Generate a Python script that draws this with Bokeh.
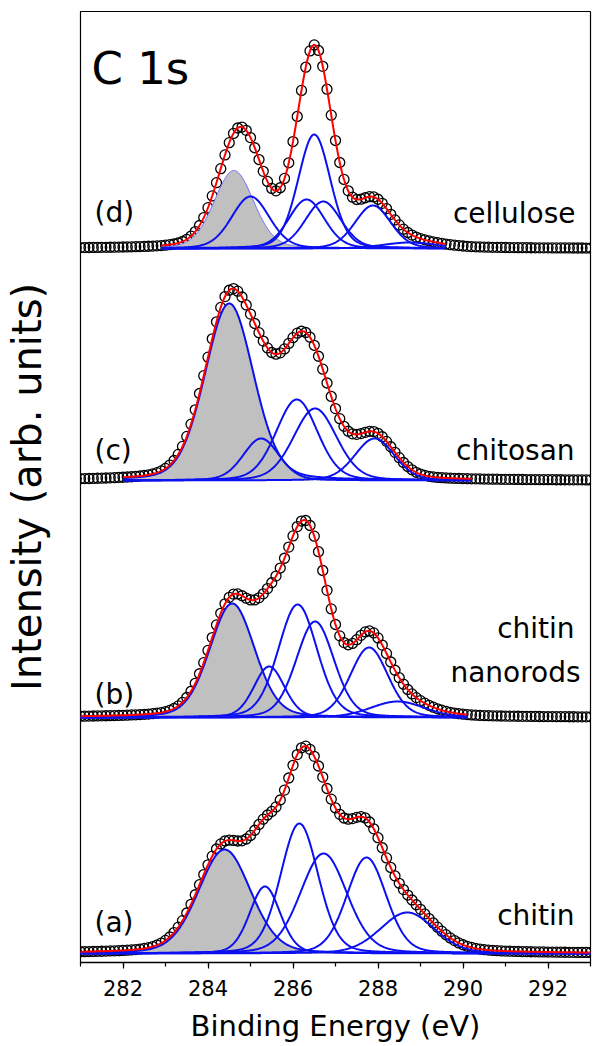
import numpy as np
from bokeh.plotting import figure
from bokeh.models import FixedTicker, Label
from bokeh.embed import file_html
from bokeh.resources import INLINE

FONT = "DejaVu Sans"

# ---- axis ----
x_ticks = [282, 284, 286, 288, 290, 292]
x_minor = list(range(281, 294))
x_label = "Binding Energy (eV)"
y_label = "Intensity (arb. units)"

# ---- panels (bottom to top) ----
panel_tags = ["(a)", "(b)", "(c)", "(d)"]
panel_names = [["chitin"], ["chitin", "nanorods"], ["chitosan"], ["cellulose"]]
panel_offsets = [9, 245, 482, 714]
fit_start = [281.0, 281.0, 282.0, 282.9]
fit_end = [293.0, 290.1, 290.2, 289.6]

# component peaks (first one = shaded C-C/C-H peak)
a_centers = [284.39, 285.34, 286.15, 286.72, 287.73, 288.69]
a_heights = [104, 67, 130, 100, 96, 41]
a_fwhm = [1.45, 0.85, 1.05, 1.30, 1.10, 1.50]

b_centers = [284.57, 285.44, 286.11, 286.52, 287.79, 288.46]
b_heights = [114, 51, 113, 96, 70, 16]
b_fwhm = [1.25, 0.85, 1.08, 1.05, 1.05, 1.50]

c_centers = [284.50, 285.25, 286.09, 286.52, 287.92]
c_heights = [177, 42, 81, 72, 42]
c_fwhm = [1.35, 1.00, 1.15, 1.20, 1.10]

d_centers = [284.61, 285.00, 286.50, 286.32, 286.71, 287.88, 288.75]
d_heights = [78, 52, 114, 49, 47, 43, 6]
d_fwhm = [1.10, 1.05, 0.90, 1.00, 1.00, 1.00, 1.50]

lorentz_fraction = 0.2

centers = [a_centers, b_centers, c_centers, d_centers]
heights = [a_heights, b_heights, c_heights, d_heights]
fwhms = [a_fwhm, b_fwhm, c_fwhm, d_fwhm]


def peak(x, c, h, w, eta=lorentz_fraction):
    g = np.exp(-4 * np.log(2) * (x - c) ** 2 / w ** 2)
    l = 1.0 / (1.0 + 4 * (x - c) ** 2 / w ** 2)
    return h * ((1 - eta) * g + eta * l)


p = figure(width=596, height=1046, x_range=(281, 293), y_range=(0, 951),
           output_backend="svg", toolbar_location=None,
           min_border_left=79, min_border_right=6, min_border_top=11,
           min_border_bottom=84)
p.grid.visible = False
p.outline_line_color = "black"
p.outline_line_width = 1.2
p.background_fill_color = "white"
p.border_fill_color = "white"

# x axis
xa = p.xaxis[0]
xa.ticker = FixedTicker(ticks=x_ticks, minor_ticks=x_minor)
xa.major_tick_out = 6
xa.major_tick_in = 0
xa.minor_tick_out = 4
xa.minor_tick_in = 0
xa.axis_line_width = 1.5
xa.major_tick_line_width = 1.2
xa.minor_tick_line_width = 1.2
xa.major_label_text_font = FONT
xa.major_label_text_font_size = "21px"
xa.major_label_text_color = "black"
xa.major_label_standoff = 11
xa.axis_label = x_label
xa.axis_label_text_font = FONT
xa.axis_label_text_font_size = "29px"
xa.axis_label_text_font_style = "normal"
xa.axis_label_text_color = "black"
xa.axis_label_standoff = 10

# y axis: no ticks, only the title
ya = p.yaxis[0]
ya.ticker = FixedTicker(ticks=[])
ya.axis_line_color = None
ya.major_tick_line_color = None
ya.minor_tick_line_color = None
ya.major_tick_out = 0
ya.major_label_standoff = 0
ya.axis_label = y_label
ya.axis_label_text_font = FONT
ya.axis_label_text_font_size = "40px"
ya.axis_label_text_font_style = "normal"
ya.axis_label_text_color = "black"
ya.axis_label_standoff = 31

energies = np.round(np.arange(280.9, 293.05, 0.1), 2)

for i in range(4):
    off = panel_offsets[i]
    xs = np.linspace(fit_start[i], fit_end[i], 600)
    comps = [peak(xs, c, h, w) for c, h, w in zip(centers[i], heights[i], fwhms[i])]
    env = np.sum(comps, axis=0)
    data = np.sum([peak(energies, c, h, w) for c, h, w in
                   zip(centers[i], heights[i], fwhms[i])], axis=0)

    # measured points
    p.scatter(energies, data + off, marker="circle", size=10, fill_color=None,
              line_color="black", line_width=1.3)
    # shaded first component
    p.varea(x=xs, y1=np.full_like(xs, off), y2=comps[0] + off, fill_color="#c0c0c0")
    for k, comp in enumerate(comps):
        if k == 0 and i == 3:
            p.line(xs, comp + off, line_color="#6a6aff", line_width=1)
        else:
            p.line(xs, comp + off, line_color="#0c10f0", line_width=2)
    # envelope
    p.line(xs, env + off, line_color="#ff0000", line_width=2)


# panel tags and names (positions given in page px, converted to data)
def dx(px):
    return 281 + (px - 79) / 42.58


def dy(py):
    return 962 - py


tag_base = [922, 694, 450, 212]
name_base = [[915], [628, 672], [450], [213]]
name_right = [[574], [574, 580], [574], [575]]
for i in range(4):
    p.add_layout(Label(x=dx(93), y=dy(tag_base[i]), text=panel_tags[i],
                       text_font=FONT, text_font_size="28px", text_color="black",
                       text_baseline="alphabetic", text_align="left"))
    for t, b, r in zip(panel_names[i], name_base[i], name_right[i]):
        p.add_layout(Label(x=dx(r), y=dy(b), text=t, text_font=FONT,
                           text_font_size="28px", text_color="black",
                           text_baseline="alphabetic", text_align="right"))

p.add_layout(Label(x=dx(90), y=dy(68), text="C 1s", text_font=FONT,
                   text_font_size="45px", text_color="black",
                   text_baseline="alphabetic", text_align="left"))

open("out.html", "w").write(file_html(p, INLINE))
